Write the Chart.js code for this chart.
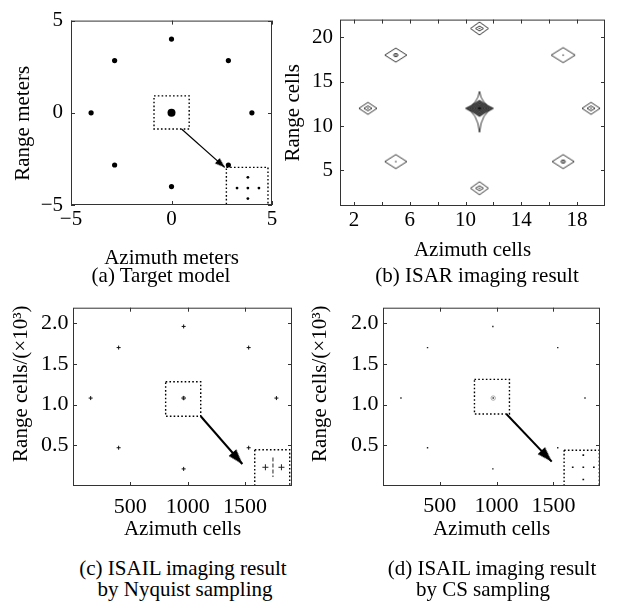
<!DOCTYPE html>
<html>
<head>
<meta charset="utf-8">
<script src="https://cdn.jsdelivr.net/npm/chart.js"></script>
<style>
  body { margin: 0; background: #fff; width: 621px; height: 601px; position: relative; overflow: hidden; font-family: 'Liberation Serif', serif; }
  canvas { position: absolute; }
  .cap { position: absolute; font-size: 21px; line-height: 24px; white-space: nowrap; transform: translateX(-50%); color: #000; }
</style>
</head>
<body>
<canvas id="chartA" width="300" height="272" style="left:0;top:0"></canvas>
<canvas id="chartB" width="351" height="272" style="left:270px;top:0"></canvas>
<canvas id="chartC" width="310" height="260" style="left:0;top:290px"></canvas>
<canvas id="chartD" width="321" height="260" style="left:300px;top:290px"></canvas>

<div class="cap" style="left:161px;top:263px">(a) Target model</div>
<div class="cap" style="left:477px;top:263px">(b) ISAR imaging result</div>
<div class="cap" style="left:183px;top:556px">(c) ISAIL imaging result</div>
<div class="cap" style="left:185px;top:577px">by Nyquist sampling</div>
<div class="cap" style="left:492px;top:556px">(d) ISAIL imaging result</div>
<div class="cap" style="left:483px;top:577px">by CS sampling</div>

<script>
// (a) target model, meters
const ringAz = [0, 2.83, 4, 2.83, 0, -2.83, -4, -2.83];
const ringRg = [4, 2.83, 0, -2.83, -4, -2.83, 0, 2.83];
const centerAz = [0];
const centerRg = [0];
const zoomAz = [3.8, 3.26, 3.8, 4.35, 3.8];
const zoomRg = [-3.5, -4.08, -4.08, -4.08, -4.65];
const boxA = { az: [-0.87, 0.88, 0.88, -0.87, -0.87], rg: [0.92, 0.92, -0.88, -0.88, 0.92] };
const insetA = { az: [2.73, 4.8, 4.8, 2.73, 2.73], rg: [-2.96, -2.96, -5, -5, -2.96] };
const arrowA = { az: [0.5, 2.65], rg: [-0.88, -2.96] };
const meterTicks = [-5, 0, 5];

// (b) ISAR image, cells
const isarAz = [11, 5, 17, 3, 11, 19, 5, 17, 11];
const isarRg = [21, 18, 18, 12, 12, 12, 6, 6, 3];
const isarXTicks = [2, 4, 6, 8, 10, 12, 14, 16, 18];
const isarXLabels = [2, 6, 10, 14, 18];
const isarYTicks = [5, 10, 15, 20];

// (c) ISAIL, Nyquist sampling (range in 10^3 cells)
const nyqAz = [965, 398, 1532, 154, 965, 1774, 398, 1532, 965];
const nyqRg = [1.96, 1.70, 1.70, 1.08, 1.08, 1.08, 0.47, 0.47, 0.21];
const nyqZoomAz = [1678, 1818];
const nyqZoomRg = [0.23, 0.23];
const nyqZoomLine = { az: [1744, 1744], rg: [0.35, 0.11] };
const boxC = { az: [808, 1114, 1114, 808, 808], rg: [1.28, 1.28, 0.857, 0.857, 1.28] };
const insetC = { az: [1585, 1890, 1890, 1585, 1585], rg: [0.445, 0.445, 0, 0, 0.445] };
const arrowC = { az: [1114, 1477], rg: [0.857, 0.27] };

// (d) ISAIL, CS sampling
const csAz = [967, 392, 1538, 158, 970, 1778, 392, 1538, 967];
const csRg = [1.96, 1.70, 1.70, 1.08, 1.08, 1.08, 0.47, 0.47, 0.21];
const csZoomAz = [1763, 1670, 1763, 1856, 1763];
const csZoomRg = [0.38, 0.23, 0.23, 0.23, 0.08];
const boxD = { az: [805, 1113, 1113, 805, 805], rg: [1.31, 1.31, 0.885, 0.885, 1.31] };
const insetD = { az: [1594, 1904, 1904, 1594, 1594], rg: [0.44, 0.44, 0, 0, 0.44] };
const arrowD = { az: [1086, 1485], rg: [0.885, 0.30] };

const cellTicksX = [500, 1000, 1500];
const cellTicksY = [0.5, 1.0, 1.5, 2.0];

const FONT = "'Liberation Serif', serif";
Chart.defaults.font.family = FONT;
Chart.defaults.color = '#000';

const pts = (xs, ys) => xs.map((x, i) => ({ x: x, y: ys[i] }));

// frame + inward ticks on all four sides, like the original plots
const framePlugin = {
    id: 'frame',
    afterDatasetsDraw(chart) {
        const { ctx, chartArea: a, scales } = chart;
        ctx.save();
        ctx.strokeStyle = '#333';
        ctx.lineWidth = 1;
        ctx.strokeRect(a.left + 0.5, a.top + 0.5, a.right - a.left - 1, a.bottom - a.top - 1);
        ctx.beginPath();
        scales.x.ticks.forEach(t => {
            const p = Math.round(scales.x.getPixelForValue(t.value)) + 0.5;
            ctx.moveTo(p, a.bottom); ctx.lineTo(p, a.bottom - 4);
            ctx.moveTo(p, a.top); ctx.lineTo(p, a.top + 4);
        });
        scales.y.ticks.forEach(t => {
            const p = Math.round(scales.y.getPixelForValue(t.value)) + 0.5;
            ctx.moveTo(a.left, p); ctx.lineTo(a.left + 4, p);
            ctx.moveTo(a.right, p); ctx.lineTo(a.right - 4, p);
        });
        ctx.stroke();
        ctx.restore();
    }
};

function arrowHead(len, hw) {
    const c = document.createElement('canvas');
    c.width = 2 * len; c.height = 2 * len;
    const g = c.getContext('2d');
    g.fillStyle = '#000';
    g.beginPath();
    g.moveTo(len, len);
    g.lineTo(len - hw, 2 * len);
    g.lineTo(len + hw, 2 * len);
    g.closePath();
    g.fill();
    return c;
}

function arrowRotation(ctx) {
    const ch = ctx.chart, d = ctx.dataset.data;
    const dx = ch.scales.x.getPixelForValue(d[1].x) - ch.scales.x.getPixelForValue(d[0].x);
    const dy = ch.scales.y.getPixelForValue(d[1].y) - ch.scales.y.getPixelForValue(d[0].y);
    return Math.atan2(dy, dx) * 180 / Math.PI + 90;
}

function dottedBox(b) {
    return { data: pts(b.az, b.rg), showLine: true, borderColor: '#000', borderWidth: 1.4,
             borderDash: [1.6, 2.2], pointRadius: 0, fill: false };
}

function arrow(b, width, head) {
    return { data: pts(b.az, b.rg), showLine: true, borderColor: '#000', borderWidth: width,
             pointRadius: [0, 4], pointStyle: head, pointRotation: arrowRotation, fill: false };
}

// contour glyphs for the ISAR peaks
function diamond(w, h, inner) {
    const c = document.createElement('canvas');
    c.width = w + 4; c.height = h + 4;
    const g = c.getContext('2d');
    const cx = c.width / 2, cy = c.height / 2;
    g.strokeStyle = '#000'; g.lineWidth = 0.8;
    const dia = (hw, hh) => {
        g.beginPath();
        g.moveTo(cx - hw, cy); g.lineTo(cx, cy - hh); g.lineTo(cx + hw, cy); g.lineTo(cx, cy + hh);
        g.closePath(); g.stroke();
    };
    dia(w / 2, h / 2);
    if (inner === 'inner') dia(4, 2.5);
    if (inner === 'ring') { g.beginPath(); g.ellipse(cx, cy, 2.2, 1.6, 0, 0, Math.PI * 2); g.stroke(); }
    g.fillStyle = '#000';
    g.fillRect(cx - 0.6, cy - 0.6, 1.2, 1.2);
    return c;
}

function star() {
    const c = document.createElement('canvas');
    c.width = 40; c.height = 56;
    const g = c.getContext('2d');
    const cx = 20, cy = 28;
    g.strokeStyle = '#000'; g.lineWidth = 0.8;
    g.beginPath();
    g.moveTo(cx, cy - 17);
    g.quadraticCurveTo(cx + 2, cy - 4, cx + 14, cy);
    g.quadraticCurveTo(cx + 2, cy + 4, cx, cy + 24);
    g.quadraticCurveTo(cx - 2, cy + 4, cx - 14, cy);
    g.quadraticCurveTo(cx - 2, cy - 4, cx, cy - 17);
    g.stroke();
    g.fillStyle = '#111';
    g.beginPath();
    g.moveTo(cx - 13, cy); g.lineTo(cx, cy - 8.5); g.lineTo(cx + 13, cy); g.lineTo(cx, cy + 8.5);
    g.closePath(); g.fill();
    g.strokeStyle = '#9a9a9a'; g.lineWidth = 0.6;
    [11, 8.5, 6, 3.5].forEach(hw => {
        const hh = hw * 0.65;
        g.beginPath();
        g.moveTo(cx - hw, cy); g.lineTo(cx, cy - hh); g.lineTo(cx + hw, cy); g.lineTo(cx, cy + hh);
        g.closePath(); g.stroke();
    });
    return c;
}

const isarGlyph = [
    diamond(18, 13, 'inner'), diamond(22, 14, 'ring'), diamond(24, 15, 'dot'),
    diamond(18, 12, 'inner'), star(), diamond(18, 12, 'inner'),
    diamond(22, 14, 'dot'), diamond(22, 14, 'ring'), diamond(18, 13, 'inner')
];

function scales(o) {
    return {
        x: {
            type: 'linear', min: o.xMin, max: o.xMax,
            afterBuildTicks: s => { s.ticks = o.xTicks.map(v => ({ value: v })); },
            afterFit: s => { s.height = o.xH; },
            grid: { display: false, drawTicks: false }, border: { display: false },
            ticks: { autoSkip: false, maxRotation: 0, padding: o.xPad, color: '#000',
                     font: { family: FONT, size: o.tickSize }, callback: o.xFmt },
            title: { display: true, text: o.xTitle, color: '#000', font: { family: FONT, size: 21 },
                     padding: { top: 0, bottom: o.xTitlePad } }
        },
        y: {
            type: 'linear', min: o.yMin, max: o.yMax,
            afterBuildTicks: s => { s.ticks = o.yTicks.map(v => ({ value: v })); },
            afterFit: s => { s.width = o.yW; },
            grid: { display: false, drawTicks: false }, border: { display: false },
            ticks: { autoSkip: false, padding: o.yPad, color: '#000',
                     font: { family: FONT, size: o.tickSize }, callback: o.yFmt },
            title: { display: true, text: o.yTitle, color: '#000', font: { family: FONT, size: 21 },
                     padding: { top: o.yTitlePad, bottom: 0 } }
        }
    };
}

function makeChart(id, datasets, sc, pad) {
    return new Chart(document.getElementById(id), {
        type: 'scatter',
        data: { datasets: datasets },
        options: {
            responsive: false, animation: false, events: [],
            layout: { padding: pad },
            plugins: { legend: { display: false }, tooltip: { enabled: false } },
            scales: sc
        },
        plugins: [framePlugin]
    });
}

const minus = v => String(v).replace('-', '\u2212');
const oneDec = v => v.toFixed(1);
// the original y titles sit off-centre; pad with spaces to shift them along the axis
const rangeTitleCells = '     Range cells/(\u00d710\u00b3)';

// (a)
makeChart('chartA', [
    { data: pts(ringAz, ringRg), pointRadius: 2.6, pointBackgroundColor: '#000', pointBorderWidth: 0 },
    { data: pts(centerAz, centerRg), pointRadius: 4, pointBackgroundColor: '#000', pointBorderWidth: 0 },
    { data: pts(zoomAz, zoomRg), pointRadius: 1.4, pointBackgroundColor: '#000', pointBorderWidth: 0 },
    dottedBox(boxA), dottedBox(insetA),
    arrow(arrowA, 1.2, arrowHead(10, 3.5))
], scales({
    xMin: -5, xMax: 5, xTicks: meterTicks, xFmt: minus, xH: 67, xPad: 2, xTitle: 'Azimuth meters', xTitlePad: 1,
    yMin: -5, yMax: 5, yTicks: meterTicks, yFmt: minus, yW: 71, yPad: 8, yTitle: 'Range meters    ', yTitlePad: 11,
    tickSize: 21
}), { top: 15, right: 28, left: 0, bottom: 0 });

// (b)
makeChart('chartB', [
    { data: pts(isarAz, isarRg), pointRadius: 3, pointStyle: isarGlyph }
], scales({
    xMin: 1, xMax: 20, xTicks: isarXTicks, xFmt: v => (isarXLabels.includes(v) ? v : ''), xH: 66, xPad: 1.5,
    xTitle: 'Azimuth cells', xTitlePad: 9,
    yMin: 1, yMax: 22, yTicks: isarYTicks, yFmt: v => v, yW: 70, yPad: 7, yTitle: 'Range cells', yTitlePad: 11,
    tickSize: 21
}), { top: 17, right: 16, left: 0, bottom: 0 });

// (c)
makeChart('chartC', [
    { data: pts(nyqAz, nyqRg), pointRadius: 2, pointStyle: 'cross', pointBorderColor: '#111', pointBorderWidth: 1 },
    { data: pts([nyqAz[4]], [nyqRg[4]]), pointRadius: 1.8, pointStyle: 'circle', pointBorderColor: '#777',
      pointBackgroundColor: 'rgba(0,0,0,0)', pointBorderWidth: 0.8 },
    { data: pts(nyqZoomAz, nyqZoomRg), pointRadius: 3, pointStyle: 'cross', pointBorderColor: '#222', pointBorderWidth: 1 },
    { data: pts(nyqZoomLine.az, nyqZoomLine.rg), showLine: true, borderColor: '#222', borderWidth: 1,
      borderDash: [4, 2], pointRadius: 0 },
    dottedBox(boxC), dottedBox(insetC),
    arrow(arrowC, 2, arrowHead(15, 5))
], scales({
    xMin: 0, xMax: 1910, xTicks: cellTicksX, xFmt: v => v, xH: 64, xPad: 8, xTitle: 'Azimuth cells', xTitlePad: 8,
    yMin: 0, yMax: 2.19, yTicks: cellTicksY, yFmt: oneDec, yW: 73, yPad: 4.5, yTitle: rangeTitleCells, yTitlePad: 9,
    tickSize: 22
}), { top: 15, right: 18, left: 0, bottom: 0 });

// (d)
makeChart('chartD', [
    { data: pts(csAz, csRg), pointRadius: 1, pointStyle: 'rect', pointBackgroundColor: '#222', pointBorderWidth: 0 },
    { data: pts([csAz[4]], [csRg[4]]), pointRadius: 2.2, pointStyle: 'circle', pointBorderColor: '#999',
      pointBackgroundColor: 'rgba(0,0,0,0)', pointBorderWidth: 0.8 },
    { data: pts(csZoomAz, csZoomRg), pointRadius: 1.2, pointStyle: 'rect', pointBackgroundColor: '#111', pointBorderWidth: 0 },
    dottedBox(boxD), dottedBox(insetD),
    arrow(arrowD, 2, arrowHead(15, 5))
], scales({
    xMin: 0, xMax: 1910, xTicks: cellTicksX, xFmt: v => v, xH: 64, xPad: 7, xTitle: 'Azimuth cells', xTitlePad: 8,
    yMin: 0, yMax: 2.19, yTicks: cellTicksY, yFmt: oneDec, yW: 83, yPad: 4.5, yTitle: rangeTitleCells, yTitlePad: 8,
    tickSize: 22
}), { top: 15, right: 21, left: 0, bottom: 0 });
</script>
</body>
</html>
